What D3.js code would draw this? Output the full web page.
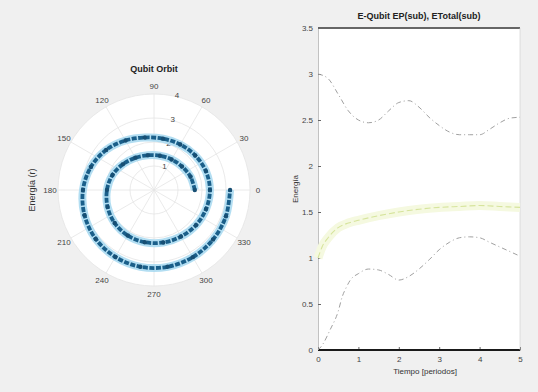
<!DOCTYPE html>
<html>
<head>
<meta charset="utf-8">
<script src="https://cdn.jsdelivr.net/npm/d3@7"></script>
<style>
  body { margin: 0; background: #f0f0f0; }
  svg { display: block; font-family: "Liberation Sans", Arial, sans-serif; }
</style>
</head>
<body>
<div id="fig"></div>
<script>
// spiral orbit (polar, theta in degrees, CCW from 0 at the right)
const spiralTheta = [0, 20, 40, 60, 80, 100, 120, 140, 160, 180, 200, 220, 240, 260, 280, 300, 320, 340,
  360, 380, 400, 420, 440, 460, 480, 500, 520, 540, 560, 580, 600, 620, 640, 660, 680, 700, 720];
const spiralR = [1.70, 1.62, 1.52, 1.47, 1.45, 1.47, 1.55, 1.68, 1.84, 1.96, 2.06, 2.14, 2.19, 2.21, 2.22, 2.24, 2.28, 2.31,
  2.33, 2.30, 2.24, 2.19, 2.17, 2.22, 2.38, 2.60, 2.80, 2.96, 3.08, 3.17, 3.22, 3.25, 3.25, 3.23, 3.21, 3.19, 3.17];

const thetaTicks = [0, 30, 60, 90, 120, 150, 180, 210, 240, 270, 300, 330];
const rTicks = [1, 2, 3, 4];

// energy curves
const eQubitX = [0, 0.25, 0.5, 0.75, 1.0, 1.25, 1.5, 1.75, 2.0, 2.25, 2.5, 2.75, 3.0, 3.25, 3.5, 3.75, 4.0, 4.25, 4.5, 4.75, 5.0];
const eQubitY = [3.00, 2.95, 2.78, 2.60, 2.50, 2.47, 2.50, 2.60, 2.69, 2.71, 2.64, 2.53, 2.44, 2.37, 2.34, 2.34, 2.34, 2.40, 2.47, 2.52, 2.53];

const epX = [0, 0.1, 0.3, 0.5, 0.6, 0.7, 0.8, 1.0, 1.25, 1.5, 1.75, 2.0, 2.25, 2.5, 2.75, 3.0, 3.25, 3.5, 3.75, 4.0, 4.25, 4.5, 4.75, 5.0];
const epY = [0, 0.05, 0.22, 0.42, 0.58, 0.68, 0.76, 0.83, 0.88, 0.87, 0.82, 0.76, 0.80, 0.88, 0.98, 1.09, 1.17, 1.22, 1.23, 1.22, 1.17, 1.12, 1.07, 1.02];

const eTotalX = [0, 0.1, 0.25, 0.5, 0.75, 1.0, 1.5, 2.0, 2.5, 3.0, 3.5, 4.0, 4.5, 5.0];
const eTotalY = [1.00, 1.12, 1.22, 1.33, 1.38, 1.41, 1.46, 1.50, 1.53, 1.55, 1.56, 1.57, 1.56, 1.55];

const xTicks = [0, 1, 2, 3, 4, 5];
const yTicks = [0, 0.5, 1, 1.5, 2, 2.5, 3, 3.5];

const W = 538, H = 392;

const svg = d3.select('#fig').append('svg')
  .attr('width', W)
  .attr('height', H);

svg.append('rect').attr('width', W).attr('height', H).attr('fill', '#f0f0f0');

// ---------- polar plot ----------
const cx = 154, cy = 190, R = 96;
const rScale = d3.scaleLinear().domain([0, 4]).range([0, R]);
const rad = d => d * Math.PI / 180;
const px = (t, r) => cx + rScale(r) * Math.cos(rad(t));
const py = (t, r) => cy - rScale(r) * Math.sin(rad(t));

const polar = svg.append('g');

polar.append('circle')
  .attr('cx', cx).attr('cy', cy).attr('r', R)
  .attr('fill', '#fff');

polar.selectAll('.rgrid')
  .data(rTicks)
  .join('circle')
  .attr('cx', cx).attr('cy', cy)
  .attr('r', d => rScale(d))
  .attr('fill', 'none')
  .attr('stroke', '#e4e4e4')
  .attr('stroke-width', 0.8);

polar.selectAll('.spoke')
  .data(thetaTicks)
  .join('line')
  .attr('x1', cx).attr('y1', cy)
  .attr('x2', d => px(d, 4)).attr('y2', d => py(d, 4))
  .attr('stroke', '#e4e4e4')
  .attr('stroke-width', 0.8);

polar.selectAll('.tlabel')
  .data(thetaTicks)
  .join('text')
  .attr('x', d => cx + (R + 8) * Math.cos(rad(d)))
  .attr('y', d => cy - (R + 8) * Math.sin(rad(d)))
  .attr('dy', '0.35em')
  .attr('text-anchor', 'middle')
  .attr('font-size', 8)
  .attr('fill', '#444')
  .text(d => d);

polar.selectAll('.rlabel')
  .data(rTicks)
  .join('text')
  .attr('x', d => px(80, d) + 4)
  .attr('y', d => py(80, d) + 3)
  .attr('font-size', 8)
  .attr('fill', '#444')
  .text(d => d);

const spiral = spiralTheta.map((t, i) => [t, spiralR[i]]);
const spiralLine = d3.line()
  .x(d => px(d[0], d[1]))
  .y(d => py(d[0], d[1]))
  .curve(d3.curveCatmullRom);

polar.append('path')
  .datum(spiral)
  .attr('d', spiralLine)
  .attr('fill', 'none')
  .attr('stroke', '#a6d8f0')
  .attr('stroke-opacity', 0.85)
  .attr('stroke-width', 8);

polar.append('path')
  .datum(spiral)
  .attr('d', spiralLine)
  .attr('fill', 'none')
  .attr('stroke', '#1a5f8a')
  .attr('stroke-width', 3.8)
  .attr('stroke-dasharray', '5,1.5');

polar.selectAll('.spt')
  .data(spiral)
  .join('circle')
  .attr('cx', d => px(d[0], d[1]))
  .attr('cy', d => py(d[0], d[1]))
  .attr('r', 2.2)
  .attr('fill', '#174f74');

polar.append('text')
  .attr('x', cx).attr('y', 72)
  .attr('text-anchor', 'middle')
  .attr('font-size', 9)
  .attr('font-weight', 'bold')
  .attr('fill', '#222')
  .text('Qubit Orbit');

polar.append('text')
  .attr('transform', `translate(35,${cy}) rotate(-90)`)
  .attr('text-anchor', 'middle')
  .attr('font-size', 9)
  .attr('fill', '#333')
  .text('Energía (r)');

// ---------- energy plot ----------
const m = {left: 318, right: 520, top: 28, bottom: 350};
const x = d3.scaleLinear().domain([0, 5]).range([m.left, m.right]);
const y = d3.scaleLinear().domain([0, 3.5]).range([m.bottom, m.top]);

const plot = svg.append('g');

plot.append('rect')
  .attr('x', m.left).attr('y', m.top)
  .attr('width', m.right - m.left).attr('height', m.bottom - m.top)
  .attr('fill', '#fff');

const xAxis = plot.append('g')
  .attr('transform', `translate(0,${m.bottom})`)
  .call(d3.axisBottom(x).tickValues(xTicks).tickSize(-3).tickPadding(6).tickFormat(d3.format('d')));
const yAxis = plot.append('g')
  .attr('transform', `translate(${m.left},0)`)
  .call(d3.axisLeft(y).tickValues(yTicks).tickSize(-3).tickPadding(5).tickFormat(d => d === 0 ? '0' : d3.format('.1f')(d).replace('.0', '')));

[xAxis, yAxis].forEach(a => {
  a.selectAll('text').attr('font-size', 8).attr('fill', '#444');
  a.selectAll('line').attr('stroke', '#666');
  a.select('.domain').attr('stroke', '#999').attr('stroke-width', 0.6);
});

// top and bottom box edges
plot.append('line')
  .attr('x1', m.left).attr('x2', m.right)
  .attr('y1', y(3.5)).attr('y2', y(3.5))
  .attr('stroke', '#666').attr('stroke-width', 1.8);
plot.append('line')
  .attr('x1', m.left).attr('x2', m.right)
  .attr('y1', y(0)).attr('y2', y(0))
  .attr('stroke', '#1a1a1a').attr('stroke-width', 2.2);
plot.append('line')
  .attr('x1', m.right).attr('x2', m.right)
  .attr('y1', y(0)).attr('y2', y(3.5))
  .attr('stroke', '#ccc').attr('stroke-width', 0.6);

const line = d3.line()
  .x(d => x(d[0]))
  .y(d => y(d[1]))
  .curve(d3.curveMonotoneX);

const eTotal = eTotalX.map((v, i) => [v, eTotalY[i]]);
plot.append('path')
  .datum(eTotal)
  .attr('d', line)
  .attr('fill', 'none')
  .attr('stroke', '#f5f9e0')
  .attr('stroke-width', 9);
plot.append('path')
  .datum(eTotal)
  .attr('d', line)
  .attr('fill', 'none')
  .attr('stroke', '#d6e49c')
  .attr('stroke-width', 1.1)
  .attr('stroke-dasharray', '6,3');

const grayCurves = [
  eQubitX.map((v, i) => [v, eQubitY[i]]),
  epX.map((v, i) => [v, epY[i]])
];
plot.selectAll('.gcurve')
  .data(grayCurves)
  .join('path')
  .attr('d', line)
  .attr('fill', 'none')
  .attr('stroke', '#a0a0a0')
  .attr('stroke-width', 1)
  .attr('stroke-dasharray', '5,3,1,3');

plot.append('text')
  .attr('x', (m.left + m.right) / 2).attr('y', 19)
  .attr('text-anchor', 'middle')
  .attr('font-size', 9)
  .attr('font-weight', 'bold')
  .attr('fill', '#222')
  .text('E-Qubit EP(sub), ETotal(sub)');

plot.append('text')
  .attr('x', 425).attr('y', 374)
  .attr('text-anchor', 'middle')
  .attr('font-size', 8)
  .attr('fill', '#333')
  .text('Tiempo [periodos]');

plot.append('text')
  .attr('transform', `translate(298,${(m.top + m.bottom) / 2}) rotate(-90)`)
  .attr('text-anchor', 'middle')
  .attr('font-size', 8)
  .attr('fill', '#333')
  .text('Energía');
</script>
</body>
</html>
